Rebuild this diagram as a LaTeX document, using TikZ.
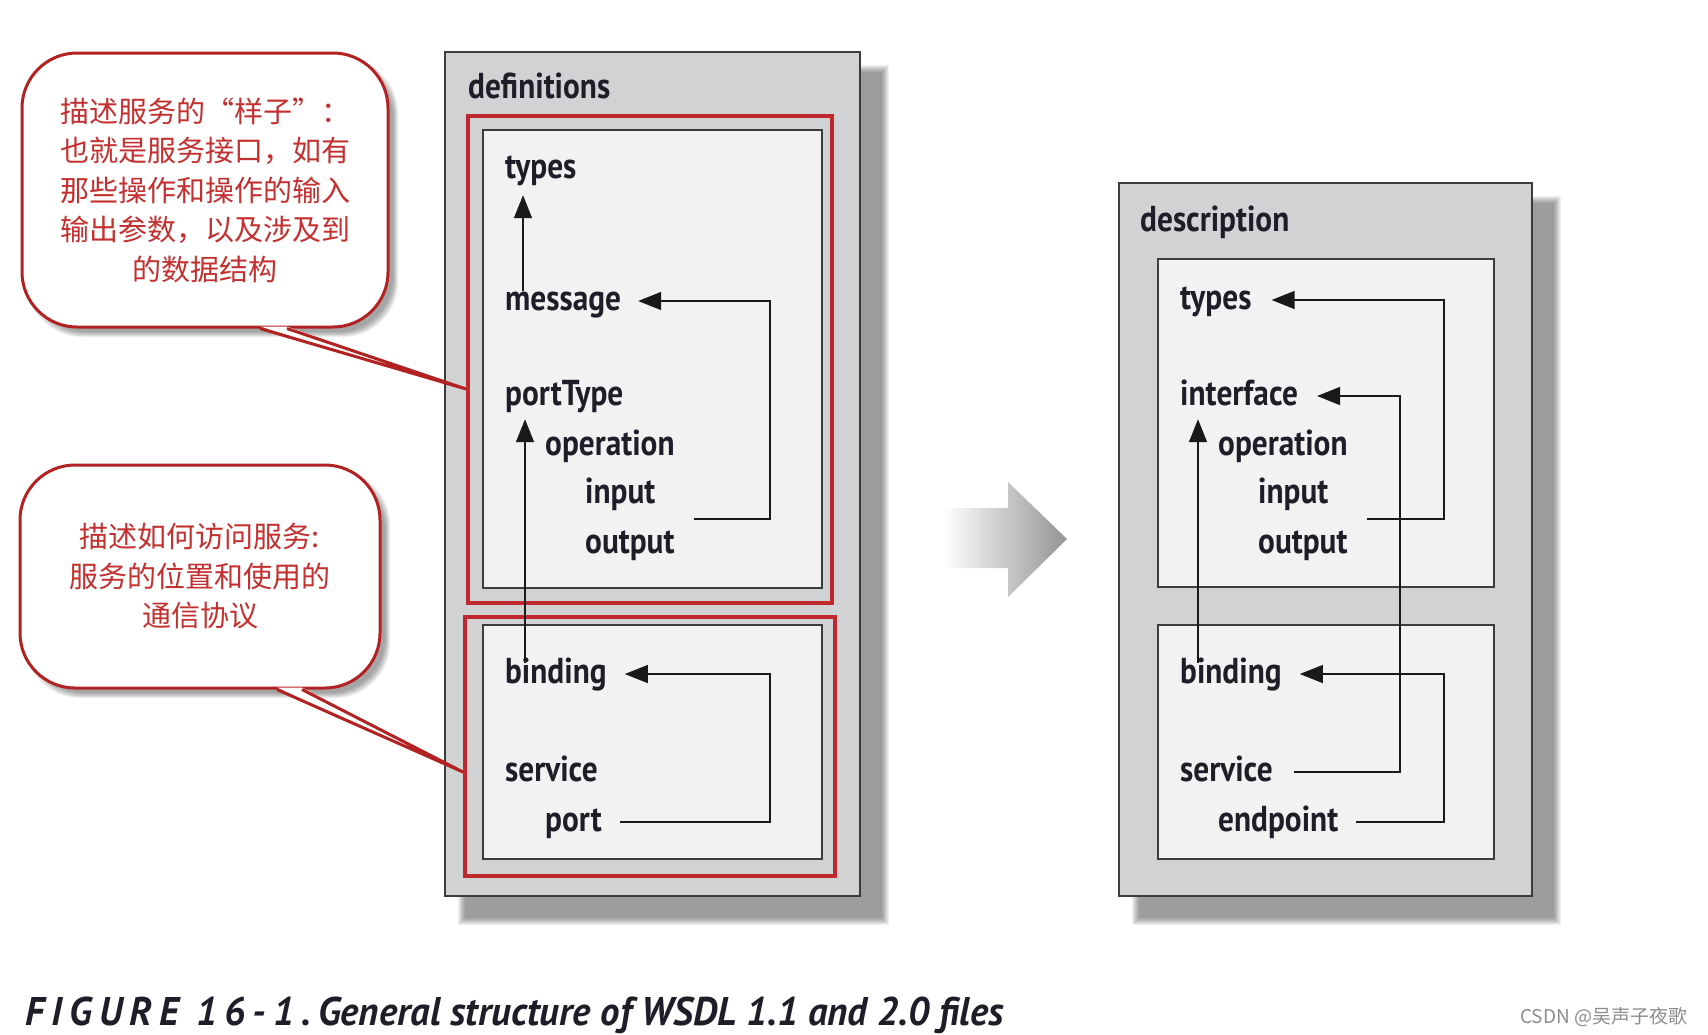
\documentclass[tikz,border=0pt]{standalone}
\usepackage{fontspec}
\usepackage{xcolor}
\usetikzlibrary{positioning, arrows.meta, calc}
\setmainfont{PT Sans}
\newfontfamily\labelfont{PT Sans}[FakeStretch=0.87]
\newfontfamily\capfont{PT Sans}[FakeStretch=0.97]
\newfontfamily\notefont{Noto Sans CJK SC}
\definecolor{boxgray}{RGB}{209,210,212}
\definecolor{paper}{RGB}{242,242,242}
\definecolor{edge}{RGB}{60,60,60}
\definecolor{ink}{RGB}{30,30,40}
\definecolor{frame}{RGB}{192,40,45}
\definecolor{notered}{RGB}{178,34,34}
\definecolor{notetext}{RGB}{196,48,48}

\begin{document}
\begin{tikzpicture}[x=1pt, y=-1pt,
  outerbox/.style={draw=edge, line width=1.8pt, fill=boxgray, anchor=north west, inner sep=0pt},
  innerbox/.style={draw=edge, line width=1.8pt, fill=paper, anchor=north west, inner sep=0pt},
  redbox/.style={draw=frame, line width=3.5pt, anchor=north west, inner sep=0pt},
  bubble/.style={draw=notered, line width=3pt, fill=white, rounded corners=55pt,
                 align=center, text=notetext, font=\notefont\fontsize{29}{39.5}\selectfont},
  tag/.style={anchor=base west, inner sep=0pt, text height=26pt, text depth=8pt,
              text=ink, font=\labelfont\bfseries\fontsize{36}{40}\selectfont},
  arr/.style={-{Triangle[length=23pt, width=18pt]}, line width=1.5pt, draw=black!90},
  tail/.style={draw=notered, line width=3pt, line join=round}
]
\useasboundingbox (0,0) rectangle (1708,1034);

\foreach \k in {0,...,7} {
  \fill[black, opacity=0.06] (458+\k,65+\k) rectangle (889-\k,925-\k);
  \fill[black, opacity=0.06] (1132+\k,196+\k) rectangle (1561-\k,925-\k);
}
\foreach \k in {0,...,5} {
  \fill[black, opacity=0.07, rounded corners=55pt] (27+\k,58+\k) rectangle (398-\k,337-\k);
  \fill[black, opacity=0.07, rounded corners=55pt] (25+\k,470+\k) rectangle (390-\k,698-\k);
}

\node[outerbox, minimum width=415pt, minimum height=844pt] (defs) at (444,51) {};
\node[outerbox, minimum width=413pt, minimum height=713pt] (desc) at (1118,182) {};
\node[innerbox, minimum width=339pt, minimum height=458pt] (portbox) at (482,129) {};
\node[innerbox, minimum width=339pt, minimum height=234pt] (svcbox) at (482,624) {};
\node[redbox, minimum width=364pt, minimum height=487pt] (absred) at (466,114) {};
\node[redbox, minimum width=370pt, minimum height=259pt] (conred) at (463,615) {};
\node[innerbox, minimum width=336pt, minimum height=328pt] (ifcbox) at (1157,258) {};
\node[innerbox, minimum width=336pt, minimum height=234pt] (bndbox) at (1157,624) {};

\node[tag] (defs-title) at (468,98) {definitions};
\node[tag] (types1) at (505,178) {types};
\node[tag] (message) at (505,310) {message};
\node[tag] (porttype) at (505,405) {portType};
\node[tag] (op1) at (545,455) {operation};
\node[tag] (in1) at (585,503) {input};
\node[tag] (out1) at (585,553) {output};
\node[tag] (bind1) at (505,683) {binding};
\node[tag] (svc1) at (505,781) {service};
\node[tag] (port) at (545,831) {port};

\node[tag] (desc-title) at (1140,231) {description};
\node[tag] (types2) at (1180,309) {types};
\node[tag] (interface) at (1180,405) {interface};
\node[tag] (op2) at (1218,455) {operation};
\node[tag] (in2) at (1258,503) {input};
\node[tag] (out2) at (1258,553) {output};
\node[tag] (bind2) at (1180,683) {binding};
\node[tag] (svc2) at (1180,781) {service};
\node[tag] (endpoint) at (1218,831) {endpoint};

\coordinate (railA) at (770,0);
\coordinate (railB) at (1444,0);
\coordinate (railC) at (1400,0);
\coordinate (io1) at ($(in1.east)!0.5!(out1.east)$);
\coordinate (io2) at ($(in2.east)!0.5!(out2.east)$);

\draw[arr, shorten <=-7pt, shorten >=9pt] ([xshift=18pt]message.north west) -- ([xshift=18pt]types1.south west);
\draw[arr, shorten <=-6pt, shorten >=6pt] ([xshift=20pt]bind1.north west) -- ([xshift=20pt]porttype.south west);
\draw[arr, shorten <=19pt, shorten >=17pt] (out1.east |- io1) -- (railA |- io1) |- (message.east);
\draw[arr, shorten <=18pt, shorten >=18pt] (port.east) -- (railA |- port.east) |- (bind1.east);

\draw[arr, shorten <=-6pt, shorten >=6pt] ([xshift=18pt]bind2.north west) -- ([xshift=18pt]interface.south west);
\draw[arr, shorten <=19pt, shorten >=20pt] (out2.east |- io2) -- (railB |- io2) |- (types2.east);
\draw[arr, shorten <=21pt, shorten >=19pt] (svc2.east) -- (railC |- svc2.east) |- (interface.east);
\draw[arr, shorten <=18pt, shorten >=18pt] (endpoint.east) -- (railB |- endpoint.east) |- (bind2.east);

\shade[left color=white, right color=black!42] (943,508) -- (1008,508) -- (1008,482) -- (1067,539)
  -- (1008,597) -- (1008,568) -- (943,568) -- cycle;

\node[bubble, minimum width=366pt, minimum height=274pt] (noteA) at (205,190)
  {描述服务的“样子”：\\也就是服务接口，如有\\那些操作和操作的输入\\输出参数，以及涉及到\\的数据结构};
\node[bubble, minimum width=360pt, minimum height=223pt] (noteB) at (200,576.5)
  {描述如何访问服务:\\服务的位置和使用的\\通信协议};

\coordinate (tipA) at (466,389);
\coordinate (tipB) at (463,772);
\fill[white] ([xshift=55pt, yshift=2pt]noteA.south) -- (tipA) -- ([xshift=82pt, yshift=2pt]noteA.south) -- cycle;
\draw[tail] ([xshift=55pt]noteA.south) -- (tipA) -- ([xshift=82pt]noteA.south);
\fill[white] ([xshift=77pt, yshift=2pt]noteB.south) -- (tipB) -- ([xshift=102pt, yshift=2pt]noteB.south) -- cycle;
\draw[tail] ([xshift=77pt]noteB.south) -- (tipB) -- ([xshift=102pt]noteB.south);

\node[anchor=base west, inner sep=0pt, text=ink, font=\capfont\bfseries\itshape\fontsize{40}{40}\selectfont]
  (caption) at (25,1025) {{\addfontfeature{LetterSpace=18}FIGURE 16-1.}\,General structure of WSDL 1.1 and 2.0 files};
\node[anchor=base west, inner sep=0pt, text=black!45, font=\notefont\fontsize{19}{19}\selectfont]
  (mark) at (1520,1023) {CSDN @吴声子夜歌};
\end{tikzpicture}
\end{document}
